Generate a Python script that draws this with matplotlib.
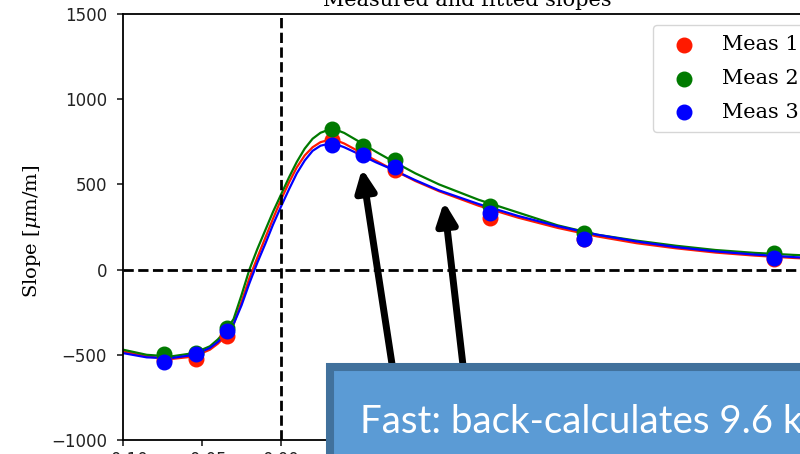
import matplotlib
matplotlib.use("Agg")
import matplotlib.pyplot as plt
from matplotlib.patches import Rectangle

plt.rcParams['mathtext.fontset'] = 'dejavuserif'

# measured slopes at the sensor positions [m]
x_meas = [-0.074, -0.054, -0.034, 0.032, 0.052, 0.072, 0.132, 0.192, 0.312]
meas1 = [-530, -523, -388, 759, 688, 582, 300, 182, 65]
meas2 = [-494, -488, -341, 823, 723, 641, 376, 212, 100]
meas3 = [-541, -494, -359, 729, 670, 600, 335, 182, 71]

# fitted slope curves
x_fit = [-0.100, -0.085, -0.070, -0.055, -0.045, -0.040, -0.035, -0.030, -0.025,
         -0.020, -0.015, -0.010, -0.005, 0.000, 0.005, 0.010, 0.015, 0.020,
         0.025, 0.030, 0.035, 0.040, 0.050, 0.060, 0.070, 0.085, 0.100, 0.125,
         0.150, 0.175, 0.200, 0.225, 0.250, 0.275, 0.300, 0.325, 0.350]
fit1 = [-480, -510, -525, -510, -470, -435, -390, -320, -190, -50, 70, 185, 300,
        410, 510, 600, 670, 718, 748, 760, 758, 740, 690, 640, 590, 520, 460,
        375, 305, 245, 195, 155, 125, 100, 82, 68, 58]
fit2 = [-470, -500, -510, -490, -450, -410, -360, -290, -150, 0, 120, 230, 340,
        440, 540, 632, 710, 768, 803, 820, 820, 802, 748, 692, 640, 565, 500,
        410, 335, 260, 205, 170, 140, 115, 98, 86, 76]
fit3 = [-490, -515, -520, -500, -460, -425, -380, -320, -210, -80, 40, 150, 265,
        370, 470, 565, 640, 697, 727, 738, 735, 718, 675, 630, 590, 525, 465,
        385, 315, 255, 205, 165, 132, 107, 88, 73, 62]

labels = ['Meas 1', 'Meas 2', 'Meas 3']
colors = ['#ff1a00', '#007a00', '#0000ff']

fig = plt.figure(figsize=(8, 4.54), dpi=100)
ax = fig.add_axes([123 / 800, 14 / 454, (811 - 123) / 800, (440 - 14) / 454])

for yf, ym, lab, c in zip([fit1, fit2, fit3], [meas1, meas2, meas3], labels, colors):
    ax.plot(x_fit, yf, color=c, lw=1.6)
    ax.scatter(x_meas, ym, color=c, s=110, label=lab, zorder=3)

ax.axhline(0, color='black', ls='--', lw=2)
ax.axvline(0, color='black', ls='--', lw=2)

ax.set_xlim(-0.10, -0.10 + (811 - 123) / 1580)
ax.set_ylim(-1000, 1500)
ax.set_yticks([-1000, -500, 0, 500, 1000, 1500])
ax.set_xticks([-0.10, -0.05, 0.00, 0.05, 0.10, 0.15, 0.20, 0.25, 0.30])
ax.set_xticklabels(['−0.10', '−0.05', '0.00', '0.05', '0.10', '0.15', '0.20', '0.25', '0.30'])
ax.tick_params(labelsize=12, colors='#222222', width=1.2, length=4.5)
ax.tick_params(axis='y', pad=7)
for sp in ax.spines.values():
    sp.set_linewidth(1.3)

ax.set_title('Measured and fitted slopes', fontfamily='DejaVu Serif', fontsize=15)
ax.set_ylabel('Slope [$\\mu$m/m]', fontfamily='DejaVu Serif', fontsize=14)
ax.yaxis.set_label_coords(-0.116, 0.49)

ax.legend(loc='upper right', bbox_to_anchor=(0.997, 0.974),
          prop={'family': 'DejaVu Serif', 'size': 15},
          labelspacing=0.7, borderpad=0.5, borderaxespad=0.0)

# callout arrows pointing at the fitted curves
arrow_kw = dict(arrowstyle='-|>,head_length=13,head_width=6', mutation_scale=1,
                lw=5, color='black', shrinkA=0, shrinkB=0)
ax.annotate('', xy=(0.0513, 593), xycoords='data', xytext=(397.5, 54),
            textcoords='figure pixels', arrowprops=arrow_kw, annotation_clip=False)
ax.annotate('', xy=(0.1032, 399), xycoords='data', xytext=(467, 54),
            textcoords='figure pixels', arrowprops=arrow_kw, annotation_clip=False)

# callout box
box = Rectangle((330 / 800, -0.2), 1.0, (454 - 367) / 454 + 0.2, transform=fig.transFigure,
                facecolor='#5B9BD5', edgecolor='#41719C', lw=5.8, zorder=10)
fig.add_artist(box)
fig.text(360 / 800, (454 - 433) / 454, 'Fast: back-calculates 9.6 k', color='white',
         fontsize=27.7, family='Lato', ha='left', va='baseline', zorder=11)

fig.savefig('out.png', dpi=100)
